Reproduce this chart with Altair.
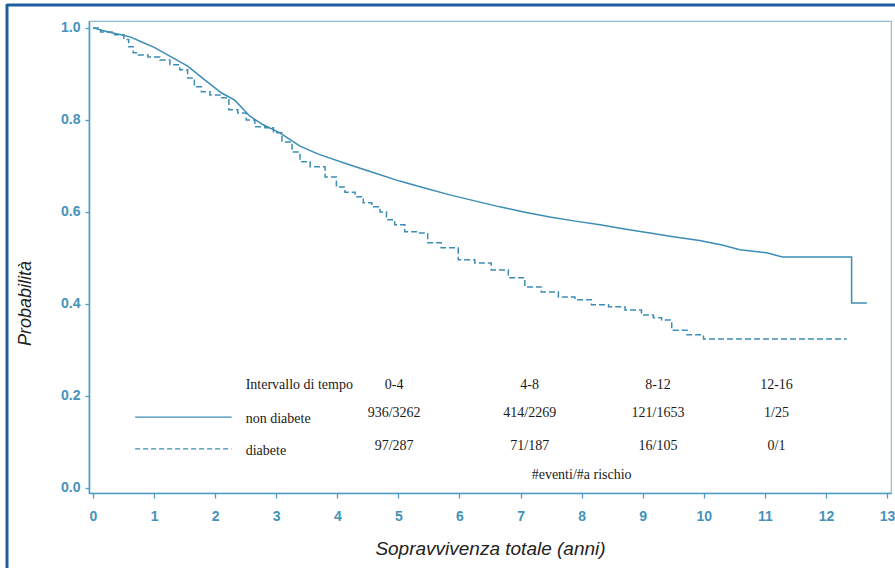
import altair as alt
import pandas as pd

# ---- Kaplan-Meier curves ----
t_non = [0, 0.25, 0.46, 0.62, 0.79, 1.01, 1.28, 1.55, 1.83, 2.1, 2.32, 2.57, 2.78,
         3.06, 3.39, 3.7, 4.21, 4.6, 5.02, 5.4, 5.84, 6.25, 6.66, 7.05, 7.48, 7.9,
         8.3, 8.7, 9.12, 9.5, 9.93, 10.3, 10.59, 11.03, 11.29, 12.42, 12.42, 12.67]
s_non = [1.0, 0.991, 0.985, 0.980, 0.970, 0.957, 0.937, 0.917, 0.887, 0.859, 0.843,
         0.808, 0.790, 0.772, 0.743, 0.725, 0.702, 0.685, 0.667, 0.653, 0.637, 0.624,
         0.611, 0.600, 0.589, 0.580, 0.572, 0.563, 0.554, 0.546, 0.538, 0.528, 0.518,
         0.511, 0.502, 0.502, 0.402, 0.402]

t_dia = [0, 0.25, 0.46, 0.55, 0.62, 0.70, 0.79, 1.01, 1.18, 1.34, 1.5, 1.6, 1.72, 1.83,
         2.0, 2.16, 2.29, 2.45, 2.57, 2.73, 2.9, 3.01, 3.18, 3.34, 3.44, 3.67, 3.93,
         4.04, 4.21, 4.37, 4.48, 4.65, 4.75, 4.86, 5.02, 5.19, 5.4, 5.56, 5.84, 6.12,
         6.38, 6.66, 6.94, 7.2, 7.48, 7.76, 8.02, 8.3, 8.58, 8.84, 9.12, 9.23, 9.39,
         9.56, 9.89, 10.1, 12.34]
s_dia = [1.0, 0.991, 0.985, 0.975, 0.959, 0.946, 0.941, 0.937, 0.930, 0.920, 0.909,
         0.891, 0.872, 0.861, 0.854, 0.848, 0.822, 0.815, 0.800, 0.785, 0.783, 0.772,
         0.752, 0.730, 0.709, 0.698, 0.676, 0.654, 0.643, 0.633, 0.620, 0.611, 0.600,
         0.583, 0.572, 0.557, 0.554, 0.533, 0.522, 0.496, 0.489, 0.474, 0.457, 0.437,
         0.426, 0.415, 0.409, 0.398, 0.394, 0.387, 0.376, 0.370, 0.365, 0.343, 0.333,
         0.324, 0.324]

# ---- Risk table ----
row_labels = ["Intervallo di tempo", "non diabete", "diabete"]
intervals = ["0-4", "4-8", "8-12", "12-16"]
non_diab = ["936/3262", "414/2269", "121/1653", "1/25"]
diab = ["97/287", "71/187", "16/105", "0/1"]
footer = "#eventi/#a rischio"

x_ticks = list(range(0, 14))
y_ticks = [0.0, 0.2, 0.4, 0.6, 0.8, 1.0]

# ---- layout (data units) ----
col_t = [4.93, 7.15, 9.25, 11.19]
row_y = [0.224, 0.163, 0.091]
label_t = 2.50
label_y = [0.224, 0.150, 0.080]
footer_pos = (8.0, 0.028)
legend_x = (0.69, 2.27)
legend_y = [0.154, 0.085]

LINE = "#3b8db5"
AXIS = "#4f9dc2"
TICKLAB = "#4593ba"

df_non = pd.DataFrame({"t": t_non, "s": s_non})
df_dia = pd.DataFrame({"t": t_dia, "s": s_dia})

xs = alt.Scale(domain=[-0.065, 13.065], nice=False, zero=False)
ys = alt.Scale(domain=[-0.011, 1.015], nice=False, zero=False)

x_axis = alt.Axis(values=x_ticks, format="d", title="Sopravvivenza totale (anni)",
                  titleY=55, titleBaseline="middle", tickSize=5, labelPadding=11,
                  grid=False)
y_axis = alt.Axis(values=y_ticks, format=".1f", title="Probabilità",
                  titleX=-64, titleY=282, titleBaseline="middle", titleAngle=-90,
                  tickSize=4, labelPadding=5, grid=False)

base_x = alt.X("t:Q", scale=xs, axis=x_axis)
base_y = alt.Y("s:Q", scale=ys, axis=y_axis)

solid = alt.Chart(df_non).mark_line(color=LINE, strokeWidth=1.5).encode(
    x=base_x, y=base_y, order="idx:Q"
).transform_window(idx="row_number()")

dashed = alt.Chart(df_dia).mark_line(color=LINE, strokeWidth=1.5, strokeDash=[6, 3],
                                      interpolate="step").encode(
    x=alt.X("t:Q", scale=xs), y=alt.Y("s:Q", scale=ys)
)

# legend lines
leg_df = pd.DataFrame({"x1": [legend_x[0]] * 2, "x2": [legend_x[1]] * 2,
                       "y": legend_y, "kind": ["solid", "dashed"]})
leg_solid = alt.Chart(leg_df[leg_df.kind == "solid"]).mark_rule(
    color=LINE, strokeWidth=1.3).encode(
    x=alt.X("x1:Q", scale=xs), x2="x2:Q", y=alt.Y("y:Q", scale=ys))
leg_dash = alt.Chart(leg_df[leg_df.kind == "dashed"]).mark_rule(
    color=LINE, strokeWidth=1.3, strokeDash=[5, 3]).encode(
    x=alt.X("x1:Q", scale=xs), x2="x2:Q", y=alt.Y("y:Q", scale=ys))

# table text
cells = []
for i, v in enumerate(intervals):
    cells.append({"t": col_t[i], "s": row_y[0], "txt": v})
for i, v in enumerate(non_diab):
    cells.append({"t": col_t[i], "s": row_y[1], "txt": v})
for i, v in enumerate(diab):
    cells.append({"t": col_t[i], "s": row_y[2], "txt": v})
cells.append({"t": footer_pos[0], "s": footer_pos[1], "txt": footer})
cell_df = pd.DataFrame(cells)
lab_df = pd.DataFrame({"t": [label_t] * 3, "s": label_y, "txt": row_labels})

cell_text = alt.Chart(cell_df).mark_text(font="Liberation Serif", fontSize=14,
                                         color="#1a1a1a", align="center",
                                         baseline="middle").encode(
    x=alt.X("t:Q", scale=xs), y=alt.Y("s:Q", scale=ys), text="txt:N")
lab_text = alt.Chart(lab_df).mark_text(font="Liberation Serif", fontSize=14,
                                       color="#1a1a1a", align="left",
                                       baseline="middle").encode(
    x=alt.X("t:Q", scale=xs), y=alt.Y("s:Q", scale=ys), text="txt:N")

# outer decorative frame (dark blue, top & left)
frame_top = alt.Chart(pd.DataFrame({"a": [0]})).mark_rule(
    color="#1f5e9e", strokeWidth=3).encode(
    x=alt.value(-82), x2=alt.value(820), y=alt.value(-16))
frame_left = alt.Chart(pd.DataFrame({"a": [0]})).mark_rule(
    color="#1f5e9e", strokeWidth=3).encode(
    x=alt.value(-82), y=alt.value(-17), y2=alt.value(560))

chart = alt.layer(
    solid, dashed, leg_solid, leg_dash, cell_text, lab_text, frame_top, frame_left
).properties(
    width=802, height=472,
    autosize=alt.AutoSizeParams(type="none"),
    padding={"left": 89, "top": 21, "right": 4, "bottom": 75},
    background="white",
).configure_view(
    stroke="#8fbccf", strokeWidth=1.2
).configure_axis(
    domainColor=AXIS, domainWidth=1.6, tickColor=AXIS, tickWidth=1.3,
    labelColor=TICKLAB, labelFont="Liberation Sans", labelFontSize=14,
    labelFontWeight="bold",
    titleFont="Liberation Sans", titleFontStyle="italic", titleFontWeight="normal",
    titleColor="#222222",
).configure_axisX(titleFontSize=19).configure_axisY(titleFontSize=18)

chart.save("out.html", embed_options={"renderer": "svg", "actions": False})
